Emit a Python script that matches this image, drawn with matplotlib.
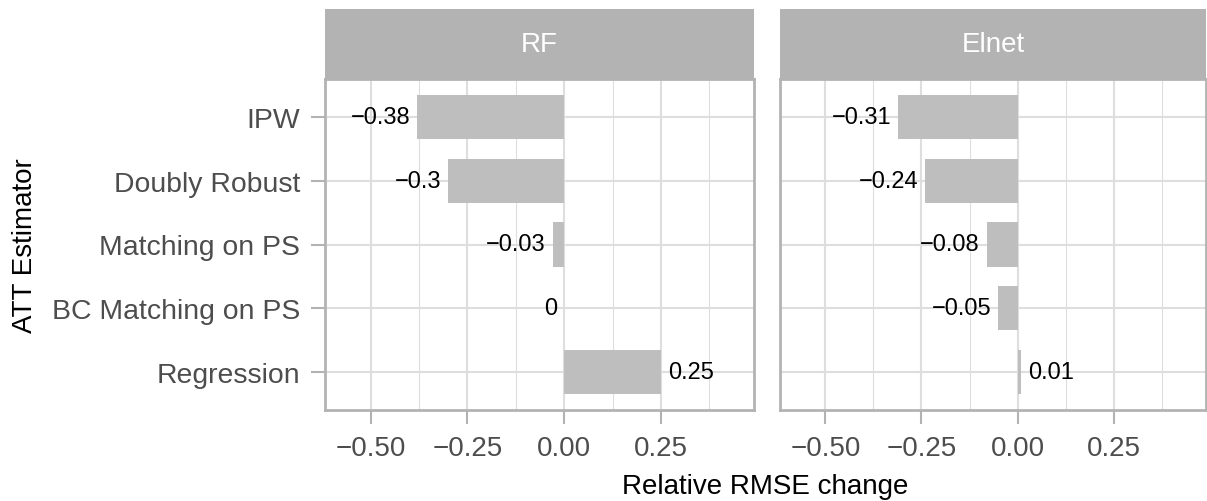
import numpy as np
import matplotlib
matplotlib.use("Agg")
import matplotlib.pyplot as plt
from matplotlib.ticker import FixedLocator

plt.rcParams['font.family'] = ['Liberation Sans', 'DejaVu Sans']

# data
estimators = ["IPW", "Doubly Robust", "Matching on PS", "BC Matching on PS", "Regression"]
models = ["RF", "Elnet"]
rf_change = [-0.38, -0.30, -0.03, 0.00, 0.25]
elnet_change = [-0.31, -0.24, -0.08, -0.05, 0.01]
x_ticks = [-0.50, -0.25, 0.00, 0.25]
x_minor = [-0.625, -0.375, -0.125, 0.125, 0.375]

W, H = 1207, 502
fig = plt.figure(figsize=(W / 100, H / 100), dpi=100)

def px_axes(x0, y0, x1, y1):
    # pixel box (top-left origin) -> figure axes
    return fig.add_axes([x0 / W, 1 - y1 / H, (x1 - x0) / W, (y1 - y0) / H])

def fmt(v):
    s = f"{round(v, 2):g}"
    if s == "-0":
        s = "0"
    return s.replace("-", "\u2212")

border = "#B3B3B3"
grid_c = "#DEDEDE"
bar_c = "#BEBEBE"
text_c = "#4D4D4D"

panels = [(325, 754), (780, 1206)]
ypos = np.arange(len(estimators), 0, -1)

for i, (name, vals) in enumerate(zip(models, [rf_change, elnet_change])):
    x0, x1 = panels[i]
    ax = px_axes(x0, 80, x1, 411)
    ax.barh(ypos, vals, height=0.7, color=bar_c, zorder=2)
    for y, v in zip(ypos, vals):
        if v > 0:
            ax.annotate(fmt(v), (v, y), xytext=(5, 0), textcoords="offset points",
                        ha="left", va="center", fontsize=17, color="black", zorder=3)
        else:
            ax.annotate(fmt(v), (v, y), xytext=(-5, 0), textcoords="offset points",
                        ha="right", va="center", fontsize=17, color="black", zorder=3)
    ax.set_xlim(-0.618, 0.49)
    ax.set_ylim(0.4, 5.6)
    ax.xaxis.set_major_locator(FixedLocator(x_ticks))
    ax.xaxis.set_minor_locator(FixedLocator(x_minor))
    ax.set_xticklabels([f"{t:.2f}".replace("-", "\u2212") for t in x_ticks])
    ax.grid(which="major", color=grid_c, lw=1.5, zorder=0)
    ax.grid(which="minor", axis="x", color=grid_c, lw=0.8, zorder=0)
    ax.set_axisbelow(True)
    for sp in ax.spines.values():
        sp.set_color(border)
        sp.set_linewidth(2)
    ax.tick_params(axis="x", which="major", length=10, width=1.5, color=border,
                   labelsize=20, labelcolor=text_c, pad=8)
    ax.tick_params(axis="x", which="minor", length=0)
    ax.set_yticks(ypos)
    if i == 0:
        ax.set_yticklabels(estimators)
        ax.tick_params(axis="y", length=10, width=1.5, color=border,
                       labelsize=20.4, labelcolor=text_c, pad=8)
        ax.set_ylabel("ATT Estimator", fontsize=20, labelpad=10)
    else:
        ax.set_yticklabels([])
        ax.tick_params(axis="y", length=0)

    st = px_axes(x0, 10, x1, 80)
    st.set_facecolor(border)
    st.set_xticks([])
    st.set_yticks([])
    for sp in st.spines.values():
        sp.set_visible(False)
    st.text(0.5, 0.5, name, ha="center", va="center", color="white", fontsize=20,
            transform=st.transAxes)

fig.text((325 + 1206) / 2 / W, 1 - 487 / H, "Relative RMSE change", ha="center",
         va="center", fontsize=20)

fig.savefig("out.png", dpi=100)
